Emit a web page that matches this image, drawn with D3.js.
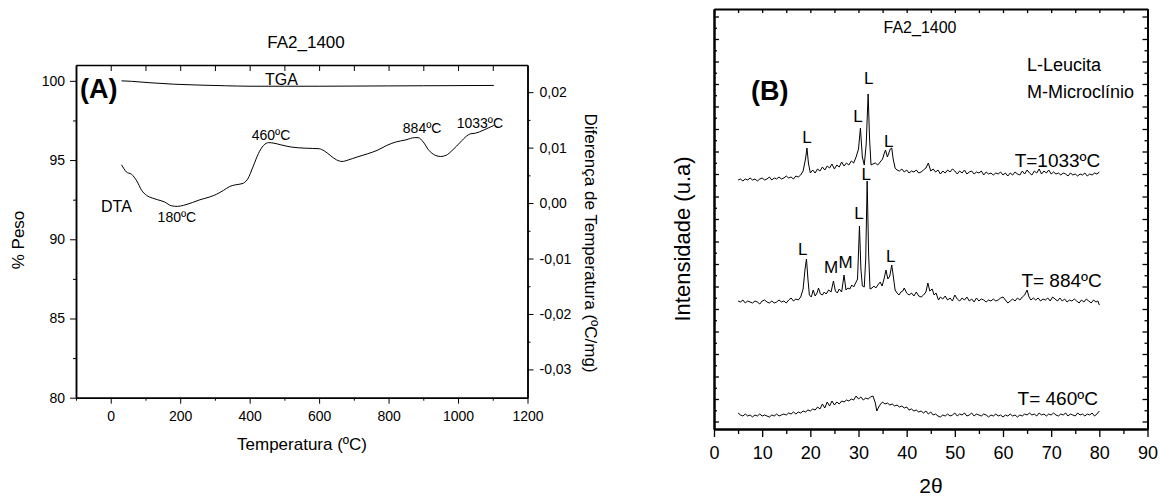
<!DOCTYPE html>
<html>
<head>
<meta charset="utf-8">
<script src="https://cdnjs.cloudflare.com/ajax/libs/d3/7.8.5/d3.min.js"></script>
<style>
body { margin: 0; background: #fff; }
svg { font-family: "Liberation Sans", Arial, sans-serif; }
.axis path, .axis line { stroke: #000; }
.axis text { fill: #000; }
</style>
</head>
<body>
<svg id="chart" width="1160" height="499"></svg>
<script>
// ---- panel A data (TGA / DTA) ----
var tgaData = [[31,100.0],[60,99.97],[113,99.88],[180,99.79],[257,99.73],[330,99.69],[401,99.66],
  [500,99.66],[600,99.66],[700,99.67],[800,99.68],[900,99.69],[1000,99.70],[1103,99.71]];

var dtaData = [[31,0.0069],[38,0.0062],[45,0.0056],[52,0.0054],[60,0.0052],[67,0.0047],[75,0.0040],
  [89,0.0023],[103,0.0014],[120,0.0009],[135,0.0006],[155,0.0002],[175,-0.0005],[192,-0.0006],
  [210,-0.0004],[235,0.0001],[257,0.0006],[285,0.0011],[305,0.0016],[325,0.0023],[343,0.0030],
  [360,0.0033],[378,0.0035],[394,0.0043],[410,0.0066],[425,0.0089],[440,0.0104],[455,0.0109],
  [470,0.0108],[490,0.0105],[520,0.0101],[560,0.0099],[600,0.0098],[615,0.0094],[632,0.0086],
  [650,0.0078],[666,0.0075],[685,0.0078],[709,0.0083],[740,0.0089],[767,0.0095],[795,0.0104],
  [820,0.0110],[850,0.0114],[875,0.0118],[885,0.0118],[900,0.0110],[915,0.0096],[935,0.0086],
  [950,0.0084],[965,0.0086],[985,0.0096],[1007,0.0110],[1025,0.0121],[1036,0.0125],[1050,0.0126],
  [1075,0.0132],[1103,0.0140]];

var tempTicks = [0,200,400,600,800,1000,1200];
var tempMinor = [-100,100,300,500,700,900,1100];
var tempTop = [0,100,200,300,400,500,600,700,800,900,1000,1100];
var pesoTicks = [80,85,90,95,100];
var pesoMinor = [82.5,87.5,92.5,97.5];
var dtaTicks = [-0.03,-0.02,-0.01,0,0.01,0.02];
var dtaMinor = [-0.025,-0.015,-0.005,0.005,0.015];

// labels on the DTA / TGA curves: [temperature, value, text]
var dtaNotes = [[-28,-0.00155,"DTA"],[135,-0.00335,"180ºC"],[406,0.01138,"460ºC"],
  [841,0.0127,"884ºC"],[996,0.01349,"1033ºC"]];
var tgaNotes = [[444,99.74,"TGA"]];

// ---- panel B data (XRD, arbitrary intensity, curves offset) ----
var xrd1033 = [[5,249],[5.5,250],[6,248],[6.5,250],[7,249],[7.5,251],[8,249],[8.5,250],[9,248],[9.5,250],
  [10,251],[10.5,249],[11,250],[11.5,252],[12,249],[12.5,251],[13,250],[13.5,252],[14,250],[14.5,251],
  [15,253],[15.5,251],[16,252],[16.5,250],[17,253],[17.5,252],[18,254],[18.5,258],[19,270],[19.3,281],
  [19.6,266],[20,256],[20.5,259],[21,256],[21.5,260],[22,258],[22.5,262],[23,259],[23.5,263],[24,261],
  [24.5,265],[25,260],[25.5,264],[26,262],[26.5,267],[27,263],[27.5,266],[28,264],[28.5,268],[29,266],
  [29.5,272],[30,280],[30.4,301],[30.8,272],[31.2,264],[31.6,285],[32,335],[32.3,290],[32.6,264],[33,265],
  [33.5,266],[34,264],[34.5,267],[35,270],[35.3,275],[35.6,279],[36,272],[36.3,276],[36.6,280],[36.9,281],
  [37.2,270],[37.6,261],[38,259],[38.5,258],[39,260],[39.5,257],[40,259],[40.5,256],[41,258],[41.5,257],
  [42,259],[42.5,256],[43,257],[43.5,259],[44,261],[44.5,266],[45,258],[45.5,260],[46,257],[46.5,259],
  [47,255],[47.5,258],[48,256],[48.5,259],[49,257],[49.5,260],[50,258],[50.5,255],[51,258],[51.5,256],
  [52,259],[52.5,255],[53,257],[53.5,258],[54,255],[54.5,257],[55,256],[55.5,258],[56,254],[56.5,257],
  [57,255],[57.5,256],[58,254],[58.5,256],[59,255],[59.5,257],[60,254],[60.5,256],[61,253],[61.5,256],
  [62,254],[62.5,257],[63,255],[63.5,254],[64,258],[64.5,255],[65,259],[65.5,256],[66,254],[66.5,258],
  [67,256],[67.5,260],[68,255],[68.5,258],[69,256],[69.5,259],[70,255],[70.5,257],[71,255],[71.5,256],
  [72,254],[72.5,256],[73,255],[73.5,253],[74,256],[74.5,254],[75,255],[75.5,253],[76,255],[76.5,254],
  [77,256],[77.5,253],[78,255],[78.5,254],[79,256],[79.5,255],[80,257]];

var xrd884 = [[5,128],[5.5,127],[6,129],[6.5,126],[7,128],[7.5,127],[8,126],[8.5,128],[9,127],[9.5,125],
  [10,128],[10.5,129],[11,127],[11.5,126],[12,128],[12.5,126],[13,127],[13.5,129],[14,127],[14.5,128],
  [15,126],[15.5,129],[16,131],[16.5,128],[17,130],[17.5,129],[18,132],[18.5,140],[18.9,160],[19.2,170],
  [19.5,150],[19.8,134],[20.2,132],[20.6,139],[21,133],[21.4,136],[21.7,141],[22.1,135],[22.5,134],[22.9,137],
  [23.3,135],[23.8,139],[24.3,137],[24.8,148],[25.2,138],[25.6,136],[26,140],[26.5,137],[27,154],[27.4,139],
  [27.8,141],[28.2,140],[28.6,144],[29,142],[29.4,146],[29.8,150],[30.2,203],[30.5,160],[30.8,143],[31.2,142],
  [31.5,170],[31.8,248],[32.1,175],[32.4,140],[32.8,141],[33.2,143],[33.6,141],[34,144],[34.5,147],[34.9,143],
  [35.3,150],[35.7,159],[36.1,150],[36.5,153],[36.9,164],[37.3,150],[37.6,139],[38,136],[38.4,134],[38.8,137],
  [39.2,138],[39.5,141],[40,136],[40.5,134],[41,136],[41.5,133],[42,137],[42.5,133],[43,132],[43.5,134],
  [44,137],[44.4,146],[44.8,138],[45.3,140],[45.7,134],[46.1,136],[46.6,129],[47,132],[47.5,130],[48,133],
  [48.5,129],[49,131],[49.5,128],[50,134],[50.5,130],[51,128],[51.5,131],[52,129],[52.5,132],[53,128],
  [53.5,130],[54,127],[54.5,131],[55,128],[55.5,130],[56,129],[56.5,127],[57,129],[57.5,128],[58,130],
  [58.5,128],[59,129],[59.5,131],[60,132],[60.5,129],[61,126],[61.5,128],[62,130],[62.5,128],[63,131],
  [63.5,129],[64,132],[64.5,134],[65,139],[65.4,132],[65.8,129],[66.3,131],[66.8,129],[67.3,131],[67.8,128],
  [68.3,130],[68.8,129],[69.3,131],[69.8,128],[70.3,132],[70.8,130],[71.3,128],[71.8,131],[72.3,128],[72.8,130],
  [73.3,127],[73.8,129],[74.3,128],[74.8,130],[75.3,128],[75.8,126],[76.3,129],[76.8,127],[77.3,130],[77.8,128],
  [78.3,126],[78.8,129],[79.3,127],[79.7,128],[80,124]];

var xrd460 = [[5,16],[5.5,14],[6,13],[6.5,15],[7,13],[7.5,14],[8,12],[8.5,14],[9,13],[9.5,15],
  [10,13],[10.5,14],[11,13],[11.5,12],[12,14],[12.5,13],[13,15],[13.5,13],[14,14],[14.5,15],
  [15,14],[15.5,16],[16,15],[16.5,17],[17,15],[17.5,17],[18,16],[18.5,18],[19,17],[19.5,19],
  [20,18],[20.5,20],[21,19],[21.5,22],[22,20],[22.5,25],[23,21],[23.5,27],[24,23],[24.5,28],
  [25,24],[25.5,27],[26,25],[26.5,28],[27,27],[27.5,29],[28,28],[28.5,30],[29,29],[29.5,33],
  [30,30],[30.5,32],[31,29],[31.5,31],[32,30],[32.5,32],[33,33],[33.5,26],[33.8,18],[34.2,22],
  [34.6,25],[35,27],[35.5,25],[36,26],[36.5,24],[37,25],[37.5,23],[38,24],[38.5,22],[39,23],
  [39.5,21],[40,22],[40.5,19],[41,20],[41.5,18],[42,19],[42.5,17],[43,18],[43.5,16],[44,18],
  [44.5,15],[45,17],[45.5,14],[46,15],[46.5,13],[47,12],[47.5,14],[48,13],[48.5,15],[49,13],
  [49.5,14],[50,16],[50.5,13],[51,15],[51.5,14],[52,16],[52.5,13],[53,14],[53.5,16],[54,13],
  [54.5,15],[55,14],[55.5,13],[56,15],[56.5,14],[57,12],[57.5,14],[58,13],[58.5,15],[59,13],
  [59.5,14],[60,12],[60.5,14],[61,13],[61.5,15],[62,13],[62.5,14],[63,12],[63.5,14],[64,13],
  [64.5,15],[65,14],[65.5,16],[66,14],[66.5,15],[67,13],[67.5,16],[68,14],[68.5,15],[69,13],
  [69.5,15],[70,14],[70.5,16],[71,14],[71.5,13],[72,15],[72.5,14],[73,16],[73.5,13],[74,15],
  [74.5,14],[75,13],[75.5,16],[76,14],[76.5,15],[77,13],[77.5,15],[78,14],[78.5,16],[79,13],
  [79.5,15],[80,18]];

var thetaTicks = [0,10,20,30,40,50,60,70,80,90];
var thetaMinor = [5,15,25,35,45,55,65,75,85];

// peak labels: [2theta, intensity, text]
var peaks1033 = [[19.3,286,"L"],[29.9,307,"L"],[32.1,345,"L"],[36.3,282,"L"]];
var peaks884 = [[18.4,174,"L"],[24.3,156,"M"],[27.3,161,"M"],[30.1,210,"L"],[31.6,249,"L"],[36.7,167,"L"]];
// sample names, right aligned at [2theta, intensity]
var samples = [[80.2,262,"T=1033ºC"],[80.5,142,"T= 884ºC"],[79.7,24,"T= 460ºC"]];
var legendLines = ["L-Leucita","M-Microclínio"];

var svg = d3.select("#chart");

// ===================== panel A =====================
var xA = d3.scaleLinear().domain([-100,1200]).range([76,527.5]);
var yPeso = d3.scaleLinear().domain([80,101]).range([397.7,65]);
var yDta = d3.scaleLinear().domain([-0.0351,0.0249]).range([397.7,65]);

var gA = svg.append("g");

gA.append("g").attr("class","axis")
  .attr("transform","translate(0,397.7)")
  .style("font-size","14px")
  .call(d3.axisBottom(xA).tickValues(tempTicks).tickSize(6).tickSizeOuter(0).tickPadding(7)
    .tickFormat(d3.format("d")));
gA.append("g").attr("class","axis")
  .attr("transform","translate(0,397.7)")
  .call(d3.axisBottom(xA).tickValues(tempMinor).tickSize(3).tickSizeOuter(0).tickFormat(""));
gA.append("g").attr("class","axis")
  .attr("transform","translate(0,65)")
  .call(d3.axisTop(xA).tickValues(tempTop).tickSize(-6).tickSizeOuter(0).tickFormat(""));

gA.append("g").attr("class","axis")
  .attr("transform","translate(76,0)")
  .style("font-size","14px")
  .call(d3.axisLeft(yPeso).tickValues(pesoTicks).tickSize(6).tickSizeOuter(0).tickPadding(5));
gA.append("g").attr("class","axis")
  .attr("transform","translate(76,0)")
  .call(d3.axisLeft(yPeso).tickValues(pesoMinor).tickSize(3).tickSizeOuter(0).tickFormat(""));

gA.append("g").attr("class","axis")
  .attr("transform","translate(527.5,0)")
  .style("font-size","14px")
  .call(d3.axisRight(yDta).tickValues(dtaTicks).tickSize(6).tickSizeOuter(0).tickPadding(6)
    .tickFormat(function(d){ return d.toFixed(2).replace(".", ","); }));
gA.append("g").attr("class","axis")
  .attr("transform","translate(527.5,0)")
  .call(d3.axisRight(yDta).tickValues(dtaMinor).tickSize(3).tickSizeOuter(0).tickFormat(""));

gA.selectAll(".axis path").style("stroke-width",1.5);

var tgaLine = d3.line()
  .x(function(d){ return xA(d[0]); })
  .y(function(d){ return yPeso(d[1]); })
  .curve(d3.curveMonotoneX);
var dtaLine = d3.line()
  .x(function(d){ return xA(d[0]); })
  .y(function(d){ return yDta(d[1]); })
  .curve(d3.curveMonotoneX);

gA.append("path").datum(tgaData).attr("d",tgaLine)
  .style("fill","none").style("stroke","#000").style("stroke-width",1);
gA.append("path").datum(dtaData).attr("d",dtaLine)
  .style("fill","none").style("stroke","#000").style("stroke-width",1);

gA.selectAll(".dtanote").data(dtaNotes).enter().append("text")
  .attr("x",function(d){ return xA(d[0]); })
  .attr("y",function(d){ return yDta(d[1]); })
  .style("font-size",function(d){ return d[2]=="DTA" ? "16px" : "14px"; })
  .text(function(d){ return d[2]; });
gA.selectAll(".tganote").data(tgaNotes).enter().append("text")
  .attr("x",function(d){ return xA(d[0]); })
  .attr("y",function(d){ return yPeso(d[1]); })
  .style("font-size","16px")
  .text(function(d){ return d[2]; });

gA.append("text").attr("x",80).attr("y",98)
  .style("font-size","27px").style("font-weight","bold").text("(A)");
gA.append("text").attr("x",306).attr("y",48)
  .attr("text-anchor","middle").style("font-size","17px").text("FA2_1400");
gA.append("text").attr("x",302).attr("y",450)
  .attr("text-anchor","middle").style("font-size","17px").text("Temperatura (ºC)");
gA.append("text").attr("transform","translate(24,240) rotate(-90)")
  .attr("text-anchor","middle").style("font-size","17px").text("% Peso");
gA.append("text").attr("transform","translate(585,243) rotate(90)")
  .attr("text-anchor","middle").style("font-size","17px").text("Diferença de Temperatura (ºC/mg)");

// ===================== panel B =====================
var xB = d3.scaleLinear().domain([0,90]).range([714,1147.5]);
var yB = d3.scaleLinear().domain([0,420]).range([429,9]);
var yMajor = d3.range(7.5,420,22.5);
var yMinor = d3.range(18.75,420,22.5);

var gB = svg.append("g");

gB.append("g").attr("class","axis")
  .attr("transform","translate(0,429)")
  .style("font-size","18px")
  .call(d3.axisBottom(xB).tickValues(thetaTicks).tickSize(8).tickSizeOuter(0).tickPadding(9));
gB.append("g").attr("class","axis")
  .attr("transform","translate(0,429)")
  .call(d3.axisBottom(xB).tickValues(thetaMinor).tickSize(5).tickSizeOuter(0).tickFormat(""));
gB.append("g").attr("class","axis")
  .attr("transform","translate(0,9)")
  .call(d3.axisTop(xB).tickValues(thetaTicks.concat(thetaMinor)).tickSize(-4).tickSizeOuter(0).tickFormat(""));

gB.append("g").attr("class","axis")
  .attr("transform","translate(714,0)")
  .call(d3.axisLeft(yB).tickValues(yMajor).tickSize(-5).tickSizeOuter(0).tickFormat(""));
gB.append("g").attr("class","axis")
  .attr("transform","translate(714,0)")
  .call(d3.axisLeft(yB).tickValues(yMinor).tickSize(-3).tickSizeOuter(0).tickFormat(""));
gB.append("g").attr("class","axis")
  .attr("transform","translate(1147.5,0)")
  .call(d3.axisRight(yB).tickValues(yMajor).tickSize(-5).tickSizeOuter(0).tickFormat(""));
gB.append("g").attr("class","axis")
  .attr("transform","translate(1147.5,0)")
  .call(d3.axisRight(yB).tickValues(yMinor).tickSize(-3).tickSizeOuter(0).tickFormat(""));

gB.selectAll(".axis path").style("stroke-width",2);
gB.selectAll(".axis line").style("stroke-width",1.3);

var xrdLine = d3.line()
  .x(function(d){ return xB(d[0]); })
  .y(function(d){ return yB(d[1]); });

[xrd1033, xrd884, xrd460].forEach(function(s){
  gB.append("path").datum(s).attr("d",xrdLine)
    .style("fill","none").style("stroke","#000").style("stroke-width",1);
});

gB.selectAll(".peak").data(peaks1033.concat(peaks884)).enter().append("text")
  .attr("x",function(d){ return xB(d[0]); })
  .attr("y",function(d){ return yB(d[1]); })
  .attr("text-anchor","middle")
  .style("font-size","17px")
  .text(function(d){ return d[2]; });

gB.selectAll(".sample").data(samples).enter().append("text")
  .attr("x",function(d){ return xB(d[0]); })
  .attr("y",function(d){ return yB(d[1]); })
  .attr("text-anchor","end")
  .style("font-size","19px")
  .text(function(d){ return d[2]; });

gB.selectAll(".legend").data(legendLines).enter().append("text")
  .attr("x",1027)
  .attr("y",function(d,i){ return 71 + i*26.5; })
  .style("font-size","18px")
  .text(function(d){ return d; });

gB.append("text").attr("x",751).attr("y",100)
  .style("font-size","27px").style("font-weight","bold").text("(B)");
gB.append("text").attr("x",920).attr("y",33)
  .attr("text-anchor","middle").style("font-size","16px").text("FA2_1400");
gB.append("text").attr("transform","translate(690,239) rotate(-90)")
  .attr("text-anchor","middle").style("font-size","22px").text("Intensidade (u.a)");
gB.append("text").attr("x",931).attr("y",493)
  .attr("text-anchor","middle").style("font-size","21px").text("2θ");
</script>
</body>
</html>
